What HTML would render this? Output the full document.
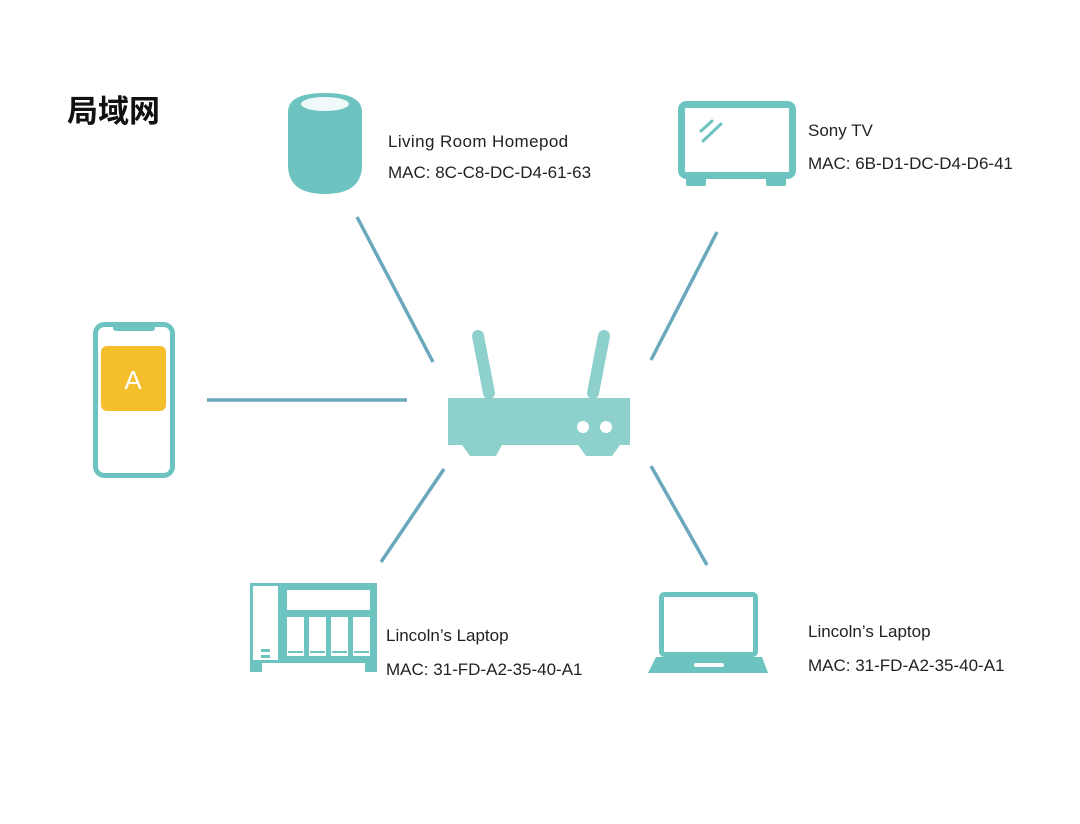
<!DOCTYPE html>
<html><head><meta charset="utf-8"><style>
html,body{margin:0;padding:0;background:#fff;}
svg{display:block}
text{font-family:"Liberation Sans","Noto Sans CJK SC",sans-serif;fill:#222;font-size:17px}
</style></head><body>
<svg width="1080" height="824" viewBox="0 0 1080 824" xmlns="http://www.w3.org/2000/svg">
<text x="67" y="122" style="font-size:31px;font-weight:bold;font-family:'Noto Sans CJK SC',sans-serif;fill:#111">局域网</text>
<g stroke="#6aa8bd" stroke-width="3.5" stroke-linecap="butt">
<line x1="357" y1="217" x2="433" y2="362"/>
<line x1="717" y1="232" x2="651" y2="360"/>
<line x1="207" y1="400" x2="407" y2="400"/>
<line x1="444" y1="469" x2="381" y2="562"/>
<line x1="651" y1="466" x2="707" y2="565"/>
</g>
<path d="M288 112 Q288 93 325 93 Q362 93 362 112 L362 165 Q362 194 325 194 Q288 194 288 165 Z" fill="#6cc3c0"/>
<ellipse cx="325" cy="104" rx="24" ry="7" fill="#fff" opacity="0.9"/>
<text x="388" y="147" style="letter-spacing:0.4px">Living Room Homepod</text>
<text x="388" y="178">MAC: 8C-C8-DC-D4-61-63</text>
<rect x="681.5" y="104.5" width="111" height="71" rx="5" fill="#fff" stroke="#6cc3c0" stroke-width="7"/>
<g stroke="#6cc3c0" stroke-width="3" stroke-linecap="round"><line x1="701" y1="131" x2="712" y2="121"/><line x1="703" y1="141" x2="721" y2="124"/></g>
<rect x="686" y="176" width="20" height="10" rx="2" fill="#6cc3c0"/>
<rect x="766" y="176" width="20" height="10" rx="2" fill="#6cc3c0"/>
<text x="808" y="136">Sony TV</text>
<text x="808" y="169">MAC: 6B-D1-DC-D4-D6-41</text>
<rect x="95.5" y="324.5" width="77" height="151" rx="9" fill="#fff" stroke="#6cc3c0" stroke-width="5"/>
<rect x="113" y="324" width="42" height="7" rx="3" fill="#6cc3c0"/>
<rect x="101" y="346" width="65" height="65" rx="6" fill="#f4bf2a"/>
<text x="133" y="389" text-anchor="middle" style="font-size:26px;fill:#fff">A</text>
<line x1="478" y1="336" x2="489" y2="393" stroke="#8dd0cc" stroke-width="12" stroke-linecap="round"/>
<line x1="604" y1="336" x2="593" y2="393" stroke="#8dd0cc" stroke-width="12" stroke-linecap="round"/>
<rect x="448" y="398" width="182" height="47" fill="#8dd0cc"/>
<path d="M462 445 L502 445 L496 456 L470 456 Z M578 445 L620 445 L612 456 L586 456 Z" fill="#8dd0cc"/>
<circle cx="583" cy="427" r="6" fill="#fff"/><circle cx="606" cy="427" r="6" fill="#fff"/>
<rect x="250" y="583" width="127" height="80" fill="#6cc3c0"/>
<rect x="253" y="586" width="25" height="74" fill="#fff"/>
<rect x="287" y="590" width="83" height="20" fill="#fff"/>
<rect x="287" y="617" width="17" height="39" fill="#fff"/>
<rect x="309" y="617" width="17" height="39" fill="#fff"/>
<rect x="331" y="617" width="17" height="39" fill="#fff"/>
<rect x="353" y="617" width="17" height="39" fill="#fff"/>
<g fill="#6cc3c0"><rect x="288" y="651" width="15" height="2"/><rect x="310" y="651" width="15" height="2"/><rect x="332" y="651" width="15" height="2"/><rect x="354" y="651" width="15" height="2"/><rect x="261" y="649" width="9" height="3"/><rect x="261" y="655" width="9" height="3"/></g>
<rect x="250" y="663" width="12" height="9" fill="#6cc3c0"/>
<rect x="365" y="663" width="12" height="9" fill="#6cc3c0"/>
<text x="386" y="641">Lincoln’s Laptop</text>
<text x="386" y="675">MAC: 31-FD-A2-35-40-A1</text>
<rect x="661.5" y="594.5" width="94" height="60" rx="3" fill="#fff" stroke="#6cc3c0" stroke-width="5"/>
<path d="M656 657 L762 657 L768 673 L648 673 Z" fill="#6cc3c0"/>
<rect x="694" y="663" width="30" height="4" rx="2" fill="#fff"/>
<text x="808" y="637">Lincoln’s Laptop</text>
<text x="808" y="671">MAC: 31-FD-A2-35-40-A1</text>
</svg>
</body></html>
